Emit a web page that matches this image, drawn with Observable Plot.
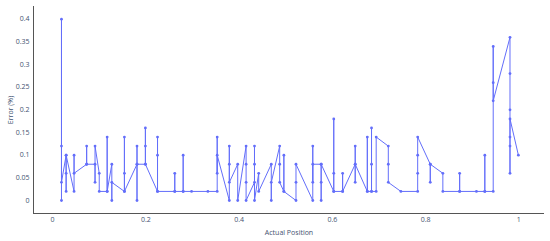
<!DOCTYPE html>
<html>
<head>
<meta charset="utf-8">
<script src="https://cdn.jsdelivr.net/npm/d3@7"></script>
<script src="https://cdn.jsdelivr.net/npm/@observablehq/plot@0.6"></script>
<style>
  html, body { margin: 0; padding: 0; background: #fff; }
</style>
</head>
<body>
<div id="chart"></div>
<script>
// Actual positions (one per group of measurements)
const positions = [0.019, 0.029, 0.046, 0.073, 0.091, 0.1, 0.117, 0.127, 0.154, 0.181,
  0.199, 0.225, 0.262, 0.28, 0.298, 0.333, 0.353, 0.379, 0.397, 0.415,
  0.433, 0.442, 0.469, 0.487, 0.496, 0.522, 0.558, 0.576, 0.603, 0.622,
  0.649, 0.675, 0.684, 0.694, 0.72, 0.747, 0.783, 0.81, 0.837, 0.873,
  0.909, 0.927, 0.945, 0.981, 0.999];

// Error (%) values recorded at each position, in drawing order
const errors = [
  [0, 0.4, 0.12, 0.04],
  [0.10, 0.02, 0.06, 0.10],
  [0.02, 0.10, 0.06],
  [0.08, 0.12, 0.08],
  [0.08, 0.04, 0.12],
  [0.06, 0.02],
  [0.02, 0.14, 0.02],
  [0.08, 0, 0.04],
  [0.02, 0.14, 0.06, 0.02],
  [0.08, 0.12, 0, 0.08],
  [0.08, 0.16, 0.12, 0.08],
  [0.02, 0.14, 0.10, 0.02],
  [0.02, 0.06, 0.02],
  [0.02, 0.10, 0.02],
  [0.02],
  [0.02],
  [0.02, 0.14, 0.06, 0.10],
  [0, 0.12, 0.08, 0.04],
  [0.08, 0],
  [0.12, 0.08, 0.04, 0],
  [0.04, 0.12, 0.08, 0],
  [0.06, 0.02],
  [0.08, 0, 0.04],
  [0.12, 0.08, 0.04],
  [0.02, 0.10, 0.02],
  [0, 0.04, 0.08],
  [0, 0.12, 0.04, 0.08],
  [0.08, 0, 0.04, 0.08],
  [0.02, 0.18, 0.06, 0.02],
  [0.02, 0.06, 0.02],
  [0.08, 0.12, 0.04, 0.08],
  [0.02, 0.14, 0.02],
  [0.02, 0.16, 0.08, 0.02],
  [0.02, 0.14],
  [0.12, 0.08, 0.04],
  [0.02],
  [0.02, 0.06, 0.10, 0.14],
  [0.08, 0.04, 0.08],
  [0.06, 0.02],
  [0.02, 0.06, 0.02],
  [0.02],
  [0.02, 0.10, 0.02],
  [0.02, 0.34, 0.26, 0.22],
  [0.36, 0.28, 0.2, 0.14, 0.12, 0.06, 0.18],
  [0.10]
];

const xTicks = [0, 0.2, 0.4, 0.6, 0.8, 1];
const xTickLabels = ["0", "0.2", "0.4", "0.6", "0.8", "1"];
const yTicks = [0, 0.05, 0.1, 0.15, 0.2, 0.25, 0.3, 0.35, 0.4];
const yTickLabels = ["0", "0.05", "0.1", "0.15", "0.2", "0.25", "0.3", "0.35", "0.4"];

const xDomain = [-0.041, 1.055];
const yDomain = [-0.0287, 0.428];

const data = positions.flatMap((p, i) => errors[i].map(e => ({position: p, error: e})));

const color = "#636efa";
const chart = Plot.plot({
  width: 550,
  height: 241,
  marginLeft: 33,
  marginRight: 6,
  marginTop: 6,
  marginBottom: 28,
  style: {fontFamily: "'Open Sans', sans-serif", fontSize: "7px", color: "#506784", background: "#fff"},
  x: {domain: xDomain},
  y: {domain: yDomain},
  marks: [
    Plot.axisX({ticks: xTicks, tickFormat: d => xTickLabels[xTicks.indexOf(d)], tickSize: 0, tickPadding: 4,
      label: "Actual Position", labelAnchor: "center", labelArrow: "none", labelOffset: 21, fill: "#3f5270"}),
    Plot.axisY({ticks: yTicks, tickFormat: d => yTickLabels[yTicks.indexOf(d)], tickSize: 0, tickPadding: 4,
      label: "Error (%)", labelAnchor: "center", labelArrow: "none", labelOffset: 25, fill: "#3f5270"}),
    Plot.ruleX([xDomain[0]], {stroke: "#555", strokeWidth: 1}),
    Plot.ruleY([yDomain[0]], {stroke: "#555", strokeWidth: 1}),
    Plot.line(data, {x: "position", y: "error", stroke: color, strokeWidth: 1, curve: "linear"}),
    Plot.dot(data, {x: "position", y: "error", r: 1.4, fill: color, stroke: "none"})
  ]
});
document.getElementById("chart").appendChild(chart);
</script>
</body>
</html>
